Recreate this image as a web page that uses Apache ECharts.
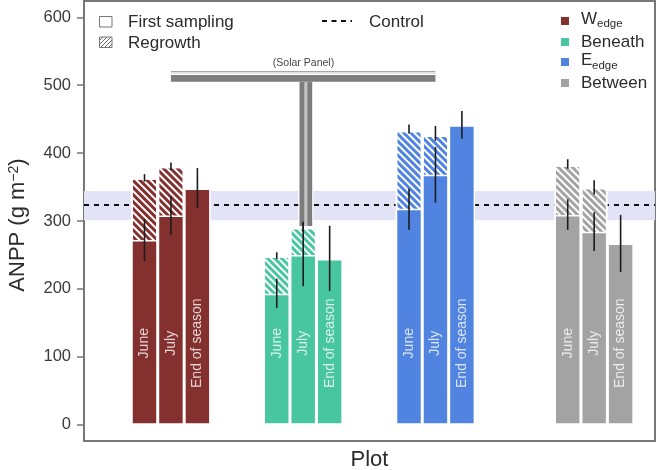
<!DOCTYPE html>
<html>
<head>
<meta charset="utf-8">
<style>html,body{margin:0;padding:0;background:#fff}#chart{width:657px;height:470px}</style>
<script src="https://cdn.jsdelivr.net/npm/echarts@6/dist/echarts.min.js"></script>
</head>
<body>
<div id="chart"></div>
<script>
const times = ['June', 'July', 'End of season'];
const yTicks = [0, 100, 200, 300, 400, 500, 600];

// slot on the x axis, 3 per plot: Wedge, Beneath, Eedge, Between
const slots = [1, 2, 3, 6, 7, 8, 11, 12, 13, 17, 18, 19];
const colors = ['#84302f', '#48c6a0', '#5084e0', '#a3a3a3'];

const firstSampling = [272, 308, 348, 193, 250, 244, 318, 368, 441, 309, 284, 267];
// total height with regrowth on top, none for end of season
const withRegrowth = [363, 380, null, 248, 290, null, 433, 426, null, 382, 349, null];

const firstLow = [241, 279, 319, 172, 204, 197, 287, 327, 421, 287, 256, 225];
const firstHigh = [303, 336, 378, 215, 299, 293, 348, 409, 462, 332, 313, 309];
const regrowthLow = [358, 375, null, 244, 284, null, 429, 418, null, 377, 339, null];
const regrowthHigh = [369, 386, null, 254, 297, null, 442, 440, null, 391, 360, null];

const controlMean = 324;
const controlLow = 301;
const controlHigh = 344;

const font = '"Liberation Sans", Arial, sans-serif';
const chart = echarts.init(document.getElementById('chart'));

const hatch = {
  symbol: 'rect',
  color: '#fff',
  dashArrayX: [1, 0],
  dashArrayY: [1.7, 2.5],
  rotation: Math.PI / 4,
  symbolSize: 1
};

const colorAt = (i) => colors[Math.floor(i / 3)];

const errorRows = [];
slots.forEach((x, i) => {
  errorRows.push([x, firstLow[i], firstHigh[i]]);
  if (regrowthLow[i] !== null) errorRows.push([x, regrowthLow[i], regrowthHigh[i]]);
});

// small pattern for the legend swatch
const swatch = document.createElement('canvas');
swatch.width = swatch.height = 4;
const sw = swatch.getContext('2d');
sw.strokeStyle = '#666';
sw.lineWidth = 1;
sw.beginPath();
sw.moveTo(0, 4); sw.lineTo(4, 0);
sw.moveTo(-1, 1); sw.lineTo(1, -1);
sw.moveTo(3, 5); sw.lineTo(5, 3);
sw.stroke();

const legendText = (x, y, text, size) => ({
  type: 'text', x: x, y: y, z: 20,
  style: { text: text, font: size + 'px ' + font, fill: '#2b2b2b', verticalAlign: 'middle' }
});
const legendBox = (y, color) => ({
  type: 'rect', z: 20, shape: { x: 561, y: y - 4, width: 8, height: 8 }, style: { fill: color }
});

const op = {
  animation: false,
  grid: {
    left: 84, right: 2, top: 1, bottom: 29,
    outerBoundsMode: 'none',
    show: true, borderColor: '#777', borderWidth: 2, backgroundColor: 'transparent'
  },
  xAxis: {
    type: 'value',
    min: -1.287,
    max: 20.3,
    name: 'Plot',
    nameLocation: 'middle',
    nameGap: 8,
    nameTextStyle: { fontFamily: font, fontSize: 22, color: '#2b2b2b' },
    axisLine: { show: false, onZero: false },
    axisTick: { show: false },
    axisLabel: { show: false },
    splitLine: { show: false }
  },
  yAxis: {
    type: 'value',
    min: -24,
    max: 624,
    name: '{a|ANPP (g m}{s|−2}{a|)}',
    nameLocation: 'middle',
    nameGap: 55,
    nameTextStyle: {
      padding: [0, 8, 0, 0],
      rich: {
        a: { fontFamily: font, fontSize: 22, color: '#2b2b2b' },
        s: { fontFamily: font, fontSize: 14, color: '#2b2b2b', verticalAlign: 'top', padding: [0, 0, 6, 0] }
      }
    },
    axisLine: { show: false, onZero: false },
    axisTick: { show: true, length: 7, customValues: yTicks, lineStyle: { color: '#777', width: 1.5 } },
    axisLabel: { customValues: yTicks, margin: 13, fontFamily: font, fontSize: 16.5, color: '#3a3a3a' },
    splitLine: { show: false }
  },
  series: [
    {
      name: 'Control',
      type: 'line',
      z: 1,
      symbol: 'none',
      data: [],
      markArea: {
        silent: true,
        z: 1,
        itemStyle: { color: '#e3e3f7' },
        data: [[{ coord: [-1.287, controlLow] }, { coord: [20.3, controlHigh] }]]
      },
      markLine: {
        silent: true,
        z: 2,
        symbol: 'none',
        label: { show: false },
        lineStyle: { color: '#111', type: [5, 5], width: 2 },
        data: [{ yAxis: controlMean }]
      }
    },
    {
      name: 'Regrowth',
      type: 'bar',
      z: 3,
      barWidth: 26.45,
      barGap: '-100%',
      data: slots.map((x, i) => ({
        value: [x, withRegrowth[i]],
        itemStyle: { color: colorAt(i), borderColor: '#fff', borderWidth: 1.5, decal: hatch }
      }))
    },
    {
      name: 'First sampling',
      type: 'bar',
      z: 3,
      barWidth: 26.45,
      barGap: '-100%',
      data: slots.map((x, i) => ({
        value: [x, firstSampling[i]],
        itemStyle: { color: colorAt(i), borderColor: '#fff', borderWidth: 1.5 }
      }))
    },
    {
      name: 'Error',
      type: 'custom',
      z: 6,
      data: errorRows,
      encode: { x: 0, y: [1, 2] },
      renderItem: (params, api) => {
        const a = api.coord([api.value(0), api.value(1)]);
        const b = api.coord([api.value(0), api.value(2)]);
        return {
          type: 'line',
          shape: { x1: a[0], y1: a[1], x2: b[0], y2: b[1] },
          style: { stroke: '#1c1c1c', lineWidth: 1.6 }
        };
      }
    },
    {
      name: 'Time',
      type: 'scatter',
      z: 7,
      symbolSize: 0,
      data: slots.map((x, i) => [x, 120, times[i % 3]]),
      label: {
        show: true,
        position: 'inside',
        rotate: 90,
        formatter: (p) => p.value[2],
        fontFamily: font,
        fontSize: 14,
        color: '#fff'
      }
    },
    {
      name: 'Solar panel',
      type: 'line',
      z: 5,
      symbol: 'none',
      data: [],
      markArea: {
        silent: true,
        z: 5,
        data: [
          [{ coord: [6.81, 290], itemStyle: { color: '#fff' } }, { coord: [7.39, 345] }],
          [{ coord: [6.86, 292.5], itemStyle: { color: '#7d7d7d' } }, { coord: [7.34, 505] }],
          [{ coord: [7.04, 292.5], itemStyle: { color: '#c4c4c4' } }, { coord: [7.16, 505] }],
          [{ coord: [2.0, 505], itemStyle: { color: '#7d7d7d' } }, { coord: [12.0, 515] }],
          [{ coord: [2.0, 517.5], itemStyle: { color: '#8a8a8a' } }, { coord: [12.0, 518.5] }],
          [{ coord: [2.0, 519.5], itemStyle: { color: '#8a8a8a' } }, { coord: [12.0, 520.5] }]
        ]
      }
    }
  ],
  graphic: [
    { type: 'rect', z: 20, shape: { x: 99.5, y: 16.5, width: 12.5, height: 10.5 }, style: { fill: '#fff', stroke: '#777', lineWidth: 1 } },
    { type: 'rect', z: 20, shape: { x: 99.5, y: 37, width: 12.5, height: 10.5 }, style: { fill: { image: swatch, repeat: 'repeat' }, stroke: '#777', lineWidth: 1 } },
    legendText(128, 22, 'First sampling', 17),
    legendText(128, 43, 'Regrowth', 17),
    { type: 'line', z: 20, shape: { x1: 322, y1: 21, x2: 352, y2: 21 }, style: { stroke: '#111', lineWidth: 2, lineDash: [5, 4.5] } },
    legendText(369, 22, 'Control', 17),
    { type: 'text', x: 303.5, y: 63, z: 20, style: { text: '(Solar Panel)', font: '10.5px ' + font, fill: '#444', align: 'center', verticalAlign: 'middle' } },
    legendBox(21, colors[0]),
    legendBox(42, colors[1]),
    legendBox(62, colors[2]),
    legendBox(83, colors[3]),
    legendText(581, 19, 'W', 17),
    legendText(597, 24, 'edge', 11.5),
    legendText(581, 42, 'Beneath', 17),
    legendText(581, 60, 'E', 17),
    legendText(592, 66, 'edge', 11.5),
    legendText(581, 83, 'Between', 17)
  ]
};

chart.setOption(op, true);
</script>
</body>
</html>
